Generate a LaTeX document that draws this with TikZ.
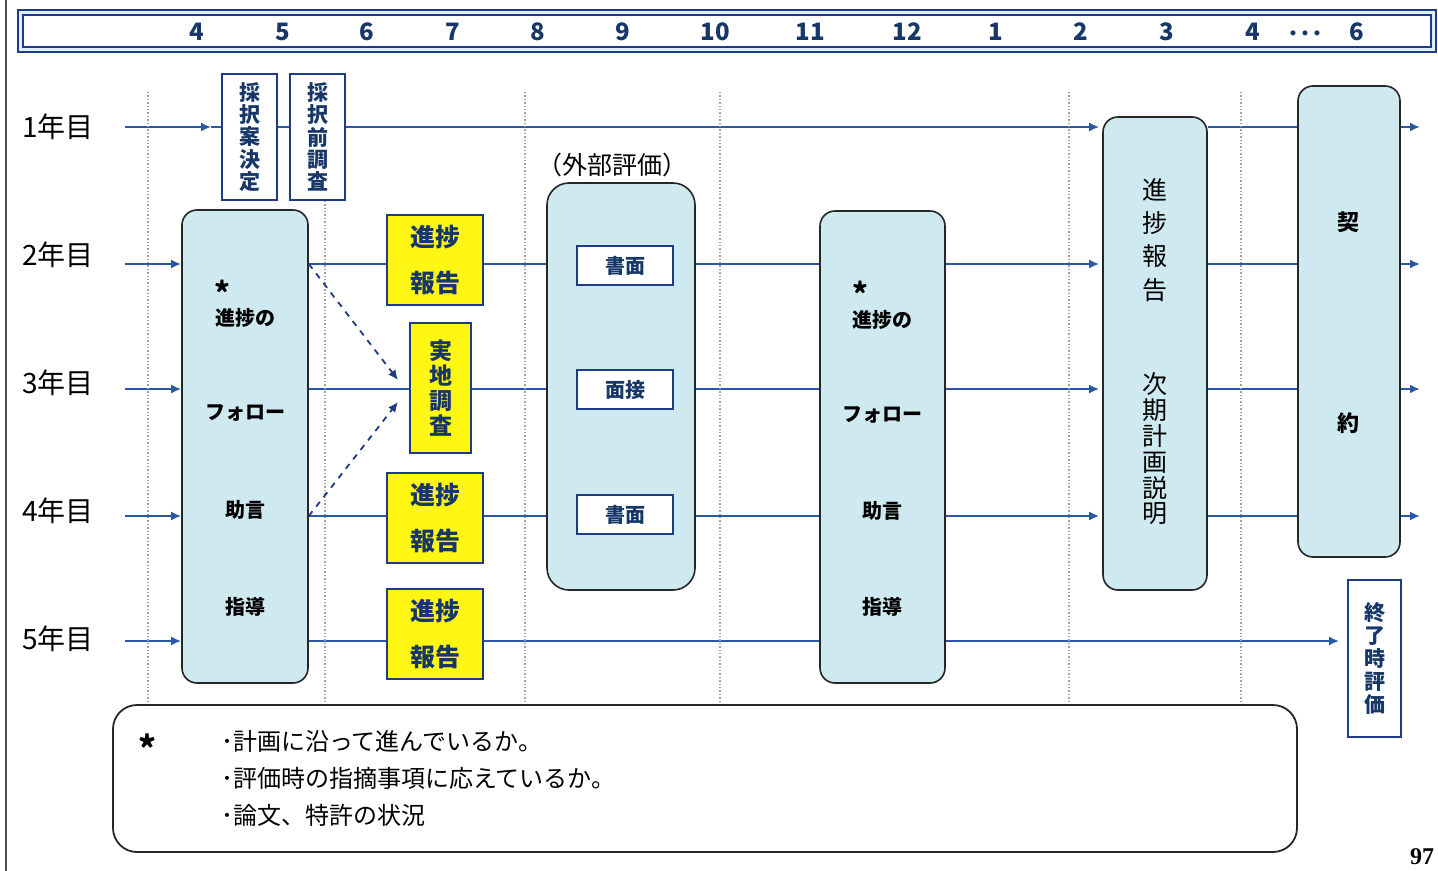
\documentclass[tikz,border=0pt]{standalone}
\usepackage{fontspec}
\setmainfont{Noto Sans CJK JP}
\newfontfamily\pagenumfont{Liberation Serif}
\usepackage{xcolor}
\usetikzlibrary{arrows.meta,positioning,backgrounds,calc}

\definecolor{navy}{HTML}{1E3C86}
\definecolor{rowblue}{HTML}{2B58A6}
\definecolor{paleblue}{HTML}{CFE9F1}
\definecolor{markyellow}{HTML}{FFF614}
\definecolor{headnavy}{HTML}{163768}

\begin{document}
\begin{tikzpicture}[x=0.5pt, y=-0.5pt,
    rowline/.style={rowblue, line width=1.2pt},
    rowarrow/.style={rowline, -{Latex[length=5pt,width=4.5pt]}},
    linkarrow/.style={navy, line width=0.9pt, dashed, -{Latex[length=5pt,width=4.5pt]}},
    guide/.style={gray!75, line width=0.7pt, densely dotted},
    phasebox/.style={draw=black!85, fill=paleblue, line width=0.8pt, rounded corners=7.5pt, inner sep=0pt},
    tagbox/.style={draw=navy, fill=white, line width=0.9pt, inner sep=0pt, text=headnavy, align=center},
    reportbox/.style={draw=navy, fill=markyellow, line width=0.9pt, inner sep=0pt, text=headnavy, align=center},
    headnum/.style={text=headnavy, font=\bfseries\fontsize{12}{14}\selectfont},
    yearlabel/.style={font=\fontsize{14}{16}\selectfont},
    steptext/.style={font=\bfseries\fontsize{10}{12}\selectfont},
    startext/.style={font=\bfseries\fontsize{15}{15}\selectfont, inner sep=0pt},
    notetext/.style={anchor=west, font=\fontsize{12}{14}\selectfont}
]
    \useasboundingbox (0,0) rectangle (1438,871);

    % Page edge
    \draw[black!70, line width=0.8pt] (6,0) -- (6,871);

    % Month bar
    \draw[navy, fill=paleblue!70, line width=0.9pt] (18,10) rectangle (1436,52);
    \draw[navy, fill=white, line width=0.9pt] (23,15) rectangle (1431,47);
    \foreach \x/\m [count=\i] in {197/4, 283/5, 367/6, 453/7, 538/8, 623/9, 715/10, 810/11,
                                  907/12, 996/1, 1081/2, 1167/3, 1253/4, 1357/6}
        \node[headnum] (mon\i) at (\x,32) {\m};
    \node[headnum] (monDots) at (1305,37) {･･･};

    % Month guides
    \foreach \x in {148,325,525,720,1069,1241} { \draw[guide] (\x,92) -- (\x,705); }

    % Year labels and row ends
    \foreach \n/\ly/\ry in {1/127/127, 2/255/264, 3/383/389, 4/511/516, 5/639/641} {
        \node[yearlabel] (year\n) at (58,\ly) {\n 年目};
        \coordinate (r\n) at (125,\ry);
        \coordinate (e\n) at (1420,\ry);
    }

    % Selection
    \node[tagbox, minimum width=27.5pt, minimum height=63pt, font=\bfseries\fontsize{10.5}{11.2}\selectfont]
        (saitakuA) at (249.5,137) {採\\択\\案\\決\\定};
    \node[tagbox, minimum width=27.5pt, minimum height=63pt, font=\bfseries\fontsize{10.5}{11.2}\selectfont]
        (saitakuB) at (317.5,137) {採\\択\\前\\調\\査};

    % Follow-up (first)
    \node[phasebox, minimum width=63pt, minimum height=236.5pt] (followA) at (245,446.5) {};
    \node[startext] (starA) at (222,292) {*};
    \node[steptext] (progA) at (245,318) {進捗の};
    \node[steptext] (follA) at (245,413) {フォロー};
    \node[steptext] (adviceA) at (245,510) {助言};
    \node[steptext] (guideA) at (245,607) {指導};

    % Reports
    \node[reportbox, minimum width=48pt, minimum height=45pt, font=\bfseries\fontsize{12.5}{23}\selectfont]
        (rep2) at (435,260) {進捗\\報告};
    \node[reportbox, minimum width=30.5pt, minimum height=65pt, font=\bfseries\fontsize{11.5}{12.6}\selectfont]
        (site) at (440.5,388) {実\\地\\調\\査};
    \node[reportbox, minimum width=48pt, minimum height=45pt, font=\bfseries\fontsize{12.5}{23}\selectfont]
        (rep4) at (435,518) {進捗\\報告};
    \node[reportbox, minimum width=48pt, minimum height=45pt, font=\bfseries\fontsize{12.5}{23}\selectfont]
        (rep5) at (435,634) {進捗\\報告};

    % External review
    \node[phasebox, rounded corners=11pt, minimum width=74pt, minimum height=203.5pt] (review) at (621,386.5) {};
    \node[font=\fontsize{12.5}{14}\selectfont] (reviewTitle) at (612,165) {（外部評価）};
    \node[tagbox, minimum width=48pt, minimum height=19.5pt, font=\bfseries\fontsize{10}{12}\selectfont]
        (paper1) at (625,265.5) {書面};
    \node[tagbox, minimum width=48pt, minimum height=19.5pt, font=\bfseries\fontsize{10}{12}\selectfont]
        (interview) at (625,389.5) {面接};
    \node[tagbox, minimum width=48pt, minimum height=19.5pt, font=\bfseries\fontsize{10}{12}\selectfont]
        (paper2) at (625,514.5) {書面};

    % Follow-up (second)
    \node[phasebox, minimum width=62.5pt, minimum height=236pt] (followB) at (882.5,447) {};
    \node[startext] (starB) at (860,293) {*};
    \node[steptext] (progB) at (882,320) {進捗の};
    \node[steptext] (follB) at (882,415) {フォロー};
    \node[steptext] (adviceB) at (882,511) {助言};
    \node[steptext] (guideB) at (882,607) {指導};

    % Year-end report
    \node[phasebox, minimum width=52pt, minimum height=236.5pt] (yearEnd) at (1155,353.5) {};
    \node[align=center, font=\fontsize{12.5}{16.6}\selectfont] (yearEndA) at (1155,240) {進\\捗\\報\\告};
    \node[align=center, font=\fontsize{12.5}{12.9}\selectfont] (yearEndB) at (1155,449) {次\\期\\計\\画\\説\\明};

    % Contract
    \node[phasebox, minimum width=51pt, minimum height=235.5pt] (contract) at (1349,321.5) {};
    \node[font=\bfseries\fontsize{11}{12}\selectfont] (contractA) at (1348,222) {契};
    \node[font=\bfseries\fontsize{11}{12}\selectfont] (contractB) at (1348,423) {約};

    % Final evaluation
    \node[tagbox, minimum width=26.5pt, minimum height=78.5pt, font=\bfseries\fontsize{10.5}{11.6}\selectfont]
        (final) at (1374.5,658.5) {終\\了\\時\\評\\価};

    % Note
    \node[draw=black!85, fill=white, line width=0.9pt, rounded corners=12pt,
          minimum width=592pt, minimum height=73.5pt] (note) at (705,778.5) {};
    \node[startext, font=\bfseries\fontsize{17}{17}\selectfont] (noteStar) at (147,748) {*};
    \node[notetext] (note1) at (214,741) {･計画に沿って進んでいるか。};
    \node[notetext] (note2) at (214,778) {･評価時の指摘事項に応えているか。};
    \node[notetext] (note3) at (214,815) {･論文、特許の状況};

    \node[font=\pagenumfont\bfseries\fontsize{12}{14}\selectfont] (pagenum) at (1422,857) {97};

    % Rows
    \begin{scope}[on background layer]
        \draw[rowarrow] (r1) -- ($(saitakuA.west|-r1)+(-10,0)$);
        \draw[rowarrow] ($(saitakuA.west|-r1)+(-10,0)$) -- ($(yearEnd.west|-r1)+(-3,0)$);
        \draw[rowline] (yearEnd.east|-r1) -- (contract.west|-r1);
        \draw[rowarrow] (contract.east|-r1) -- (e1);
        \foreach \n in {2,3,4} {
            \draw[rowarrow] (r\n) -- (followA.west|-r\n);
            \draw[rowarrow] (followA.east|-r\n) -- ($(yearEnd.west|-r\n)+(-3,0)$);
            \draw[rowline] (yearEnd.east|-r\n) -- (contract.west|-r\n);
            \draw[rowarrow] (contract.east|-r\n) -- (e\n);
        }
        \draw[rowarrow] (r5) -- (followA.west|-r5);
        \draw[rowarrow] (followA.east|-r5) -- ($(final.west|-r5)+(-8,0)$);
    \end{scope}

    % Site visit links
    \coordinate (siteIn2) at (398,380);
    \coordinate (siteIn4) at (398,402);
    \draw[linkarrow] (followA.east|-r2) -- (siteIn2);
    \draw[linkarrow] (followA.east|-r4) -- (siteIn4);

\end{tikzpicture}
\end{document}
